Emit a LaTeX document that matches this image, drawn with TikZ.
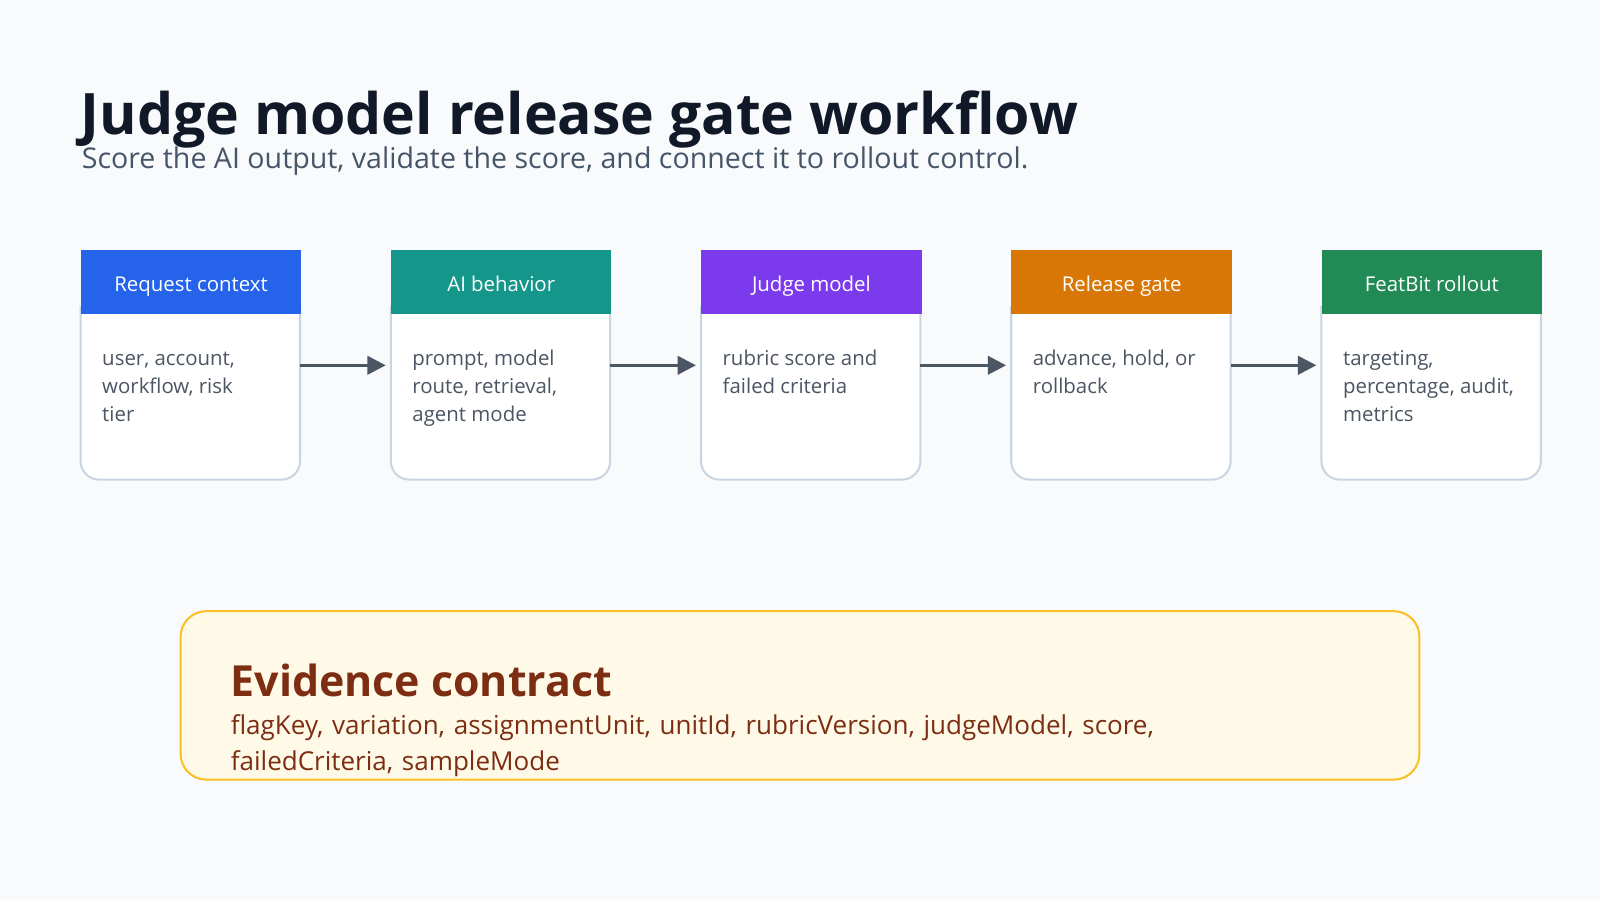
\documentclass[tikz,border=0pt]{standalone}
\usepackage{fontspec}
\setmainfont{Open Sans}
\usetikzlibrary{arrows.meta}
\begin{document}
\begin{tikzpicture}[x=1pt,y=-1pt,
  hdr/.style={anchor=north west,inner sep=0,minimum width=216,minimum height=63,text=white,text height=18,text depth=0,font=\fontsize{20}{24}\selectfont},
  body/.style={anchor=base west,inner sep=0,text width=175,align=flush left,text={rgb,255:red,75;green,85;blue,99},font=\fontsize{20}{27.5}\selectfont},
  arr/.style={draw={rgb,255:red,75;green,85;blue,99},line width=3,-{Triangle[length=18,width=18]}}]
\definecolor{bg}{HTML}{F8FAFC}
\definecolor{bd}{HTML}{CBD5E1}
\fill[bg] (0,0) rectangle (1568,882);
\useasboundingbox (0,0) rectangle (1568,882);
\node[anchor=base west,inner sep=0,font=\fontsize{56}{60}\selectfont\bfseries,text={rgb,255:red,17;green,24;blue,39}] (title) at (79,132) {Judge model release gate workflow};
\node[anchor=base west,inner sep=0,font=\fontsize{28}{30}\selectfont,text={rgb,255:red,71;green,85;blue,105}] (sub) at (80,165) {Score the AI output, validate the score, and connect it to rollout control.};
\foreach \i/\c/\h/\t in {0/2563EB/Request context/{user, account,\\ workflow, risk\\ tier},
 1/14968A/AI behavior/{prompt, model route, retrieval, agent mode},
 2/7C3AED/Judge model/{rubric score and failed criteria},
 3/D97706/Release gate/{advance, hold, or rollback},
 4/218A55/FeatBit rollout/{targeting, percentage, audit, metrics}}{
  \definecolor{hc}{HTML}{\c}
  \draw[bd,line width=2,fill=white,rounded corners=18] (79+304*\i,300) -- (79+304*\i,470) -- (294+304*\i,470) -- (294+304*\i,300);
  \node[hdr,fill=hc] (h\i) at (79+304*\i,245) {\h};
  \node[body] (b\i) at (100+304*\i,358) {\hyphenpenalty=10000 \exhyphenpenalty=10000 \t};
  \coordinate (r\i) at (294+304*\i,358);
  \coordinate (l\i) at (79+304*\i,358);
}
\foreach \i/\j in {0/1,1/2,2/3,3/4}{\draw[arr] (r\i) -- ([xshift=-5]l\j);}
\draw[line width=2,draw={rgb,255:red,251;green,191;blue,36},fill={rgb,255:red,255;green,250;blue,232},rounded corners=25] (177,599) rectangle (1391,764);
\node[anchor=base west,inner sep=0,font=\fontsize{42}{44}\selectfont\bfseries,text={rgb,255:red,124;green,45;blue,18}] (et) at (226,683) {Evidence contract};
\node[anchor=base west,inner sep=0,text width=1000,align=left,font=\fontsize{25.5}{35}\selectfont,text={rgb,255:red,124;green,45;blue,18}] (ex) at (226,720) {flagKey, variation, assignmentUnit, unitId, rubricVersion, judgeModel, score,\\ failedCriteria, sampleMode};
\end{tikzpicture}
\end{document}
